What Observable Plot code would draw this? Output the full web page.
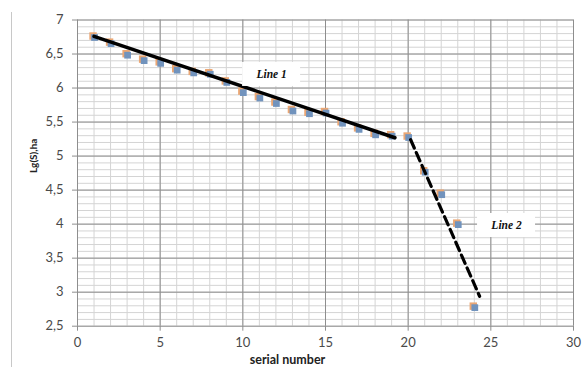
<!DOCTYPE html>
<html>
<head>
<meta charset="utf-8">
<script src="https://cdn.jsdelivr.net/npm/d3@7"></script>
<script src="https://cdn.jsdelivr.net/npm/@observablehq/plot@0.6"></script>
<style>
  html, body { margin: 0; padding: 0; background: #fff; }
  #wrap { position: relative; width: 584px; height: 367px; overflow: hidden; }
  #border { position: absolute; left: 11px; top: 12px; width: 1px; height: 355px; background: #c8c8c8; }
  svg { overflow: visible; }
</style>
</head>
<body>
<div id="wrap"><div id="border"></div></div>
<script>
// ---- data ----
const serial = [1,2,3,4,5,6,7,8,9,10,11,12,13,14,15,16,17,18,19,20,21,22,23,24];
const lgS    = [6.75,6.66,6.49,6.41,6.37,6.27,6.23,6.21,6.09,5.94,5.86,5.78,5.67,5.63,5.64,5.49,5.40,5.32,5.30,5.28,4.77,4.44,4.00,2.78];
const line1X = [1, 19.2];
const line1Y = [6.76, 5.27];
const line2X = [20.15, 24.32];
const line2Y = [5.24, 2.94];
const labelText = ["Line 1", "Line 2"];
const labelX = [11.74, 25.95];
const labelY = [6.20, 3.98];
const xTicks = [0,5,10,15,20,25,30];
const yTicks = [2.5,3,3.5,4,4.5,5,5.5,6,6.5,7];

const points = serial.map((s, i) => ({x: s, y: lgS[i]}));
const line1 = line1X.map((x, i) => ({x, y: line1Y[i]}));
const line2 = line2X.map((x, i) => ({x, y: line2Y[i]}));
const labels = labelText.map((t, i) => ({t, x: labelX[i], y: labelY[i]}));
const xMinor = d3.range(0, 31, 1);
const yMinor = d3.range(25, 71, 1).map(v => v / 10);

const font = "Lato, 'Open Sans', sans-serif";

const chart = Plot.plot({
  width: 584,
  height: 367,
  marginLeft: 77,
  marginRight: 11,
  marginTop: 19.5,
  marginBottom: 41.3,
  style: {fontFamily: font, fontSize: "13px", color: "#595959", background: "transparent"},
  x: {domain: [0, 30]},
  y: {domain: [2.5, 7]},
  marks: [
    Plot.ruleX(xMinor, {stroke: "#d4d4d4", strokeWidth: 1}),
    Plot.ruleY(yMinor, {stroke: "#d4d4d4", strokeWidth: 1}),
    Plot.ruleX(xTicks, {stroke: "#8e8e8e", strokeWidth: 1}),
    Plot.ruleY(yTicks, {stroke: "#8e8e8e", strokeWidth: 1}),
    Plot.axisX({ticks: xTicks, tickSize: 5, tickPadding: 7, stroke: "#8e8e8e", label: null, fill: "#4a4a4a"}),
    Plot.axisY({ticks: yTicks, tickSize: 5, tickPadding: 9, stroke: "#8e8e8e", label: null, fill: "#4a4a4a",
      tickFormat: d => String(d).replace(".", ",")}),
    Plot.dot(points, {x: "x", y: "y", symbol: "square", r: 4.2, fill: "#eba774", dx: -1, dy: -1}),
    Plot.dot(points, {x: "x", y: "y", symbol: "square", r: 3.8, fill: "#7193bd", dx: 0.5, dy: 0.5}),
    Plot.line(line1, {x: "x", y: "y", stroke: "#000", strokeWidth: 3.5}),
    Plot.line(line2, {x: "x", y: "y", stroke: "#000", strokeWidth: 3.2, strokeDasharray: "9,5"}),
    Plot.text(labels, {
      x: "x", y: "y", text: "t", fontFamily: "'Liberation Serif', serif", fontStyle: "italic",
      fontWeight: "bold", fontSize: 11.5, fill: "#111",
      render(index, scales, values, dims, context, next) {
        const g = next(index, scales, values, dims, context);
        const ns = "http://www.w3.org/2000/svg";
        const bg = document.createElementNS(ns, "g");
        for (const i of index) {
          const r = document.createElementNS(ns, "rect");
          r.setAttribute("x", values.x[i] - 29);
          r.setAttribute("y", values.y[i] - 12);
          r.setAttribute("width", 58);
          r.setAttribute("height", 24);
          r.setAttribute("fill", "#fff");
          bg.appendChild(r);
        }
        const outer = document.createElementNS(ns, "g");
        outer.appendChild(bg);
        outer.appendChild(g);
        return outer;
      }
    }),
    Plot.text(["serial number"], {frameAnchor: "bottom", lineAnchor: "middle", dx: -38, dy: 34, fontWeight: "bold", fontSize: 12.5, fill: "#222"}),
    Plot.text(["Lg(S),ha"], {frameAnchor: "left", dx: -44, rotate: -90, fontWeight: "bold", fontSize: 10, fill: "#222"})
  ]
});
document.getElementById("wrap").appendChild(chart);
</script>
</body>
</html>
